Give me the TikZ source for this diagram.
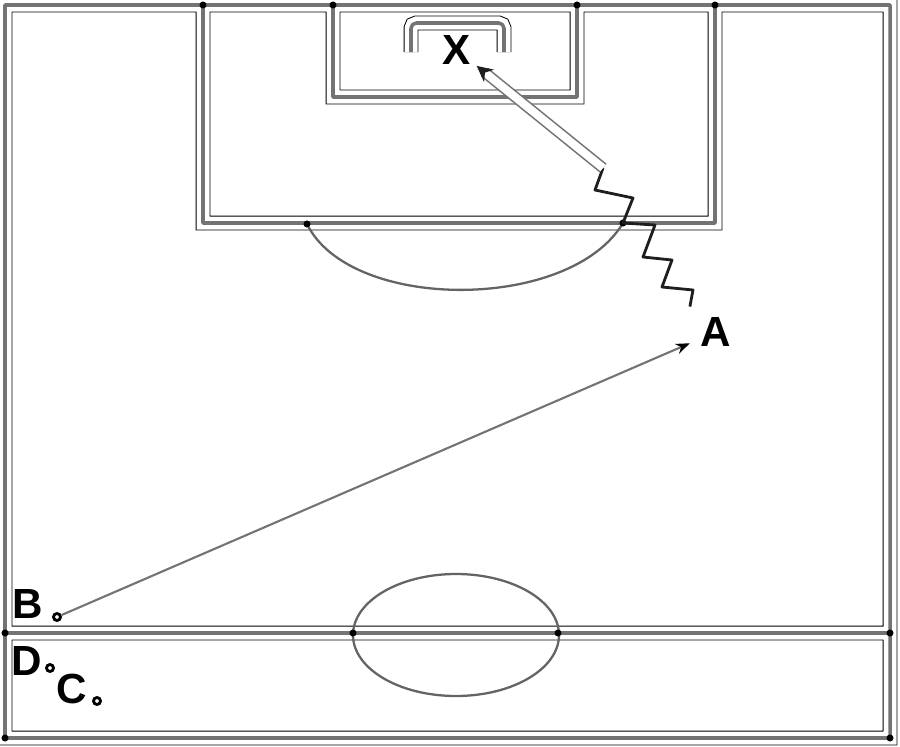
\documentclass[tikz,border=0pt]{standalone}
\usepackage{fontspec}
\setmainfont{Liberation Sans}
\usetikzlibrary{arrows.meta}
\definecolor{c1}{RGB}{115,115,115}
\definecolor{c2}{RGB}{100,100,100}
\definecolor{c3}{RGB}{30,30,30}
\tikzstyle{pitch}=[
    x=0.02cm, y=-0.02cm,
    pitch line/.style={draw=c1, line width=2pt, line join=round,
        preaction={draw=black, line width=8.5pt},
        preaction={draw=white, line width=7.4pt}},
    marking/.style={draw=c2, line width=1.3pt},
    player/.style={circle, draw=black, line width=1.6pt, fill=white, inner sep=0pt, minimum size=4pt},
    tag/.style={font={\fontsize{24}{24}\selectfont\bfseries}, inner sep=2pt},
    pass/.style={draw=c1, line width=1.2pt, -{Stealth[length=8pt,width=6pt,black]}},
    dribble/.style={draw=c3, line width=1.6pt, line join=round},
    shot/.style={draw=c1, line width=0.9pt, double=white, double distance=4.6pt,
        -{Stealth[length=9pt,width=9pt,c3]}}
]
\newcommand{\player}[3]{
    \node[tag] (#1) at #2 {#1};
    \node[player] (#1dot) at #3 {};
}

\begin{document}
\begin{tikzpicture}
[
    pitch
]
    \useasboundingbox (0,0) rectangle (900,747);
    \path[pitch line]
        (5,5) rectangle (890,738)
        (5,633) -- (890,633)
        (203,5) -- (203,223) -- (715,223) -- (715,5)
        (333,5) -- (333,97) -- (577,97) -- (577,5)
        (411,52) [rounded corners=3pt] -- (411,23) -- (504,23) -- (504,52);
    \draw[marking] (307,224) .. controls (350,312) and (570,312) .. (623,223);
    \draw[marking] (456,635) ellipse [x radius=103, y radius=61];
    \foreach \p in {(203,5),(333,5),(577,5),(715,5),(5,633),(890,633),(5,738),(890,738),(307,224),(623,223),(353,633),(558,633)}
        \fill[black] \p circle (2pt);

    \node[tag, inner sep=3pt] (X) at (457,50) {X};
    \node[tag, inner sep=6pt] (A) at (716,332) {A};
    \player{B}{(28,604)}{(57,617)}
    \player{D}{(27,661)}{(50,668)}
    \player{C}{(72,689)}{(97,701)}

    \draw[pass] (Bdot) -- (A);
    \draw[dribble] (A.north west) -- (693,290) -- (662,287) -- (672,260) -- (643,257)
        -- (655,225) -- (623,223) -- (633,198) -- (595,190) -- (603,168) coordinate (k);
    \draw[shot] (k) -- (X);
\end{tikzpicture}
\end{document}
